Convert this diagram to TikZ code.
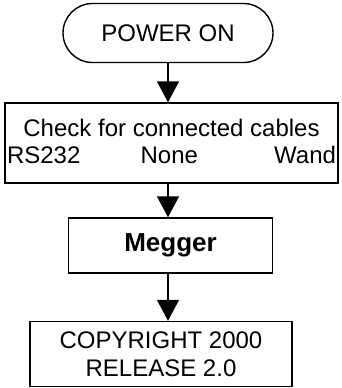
\documentclass[tikz,border=0pt]{standalone}
\usepackage{fontspec}
\setmainfont{Liberation Sans}
\usetikzlibrary{arrows.meta}
\begin{document}
\begin{tikzpicture}[x=1pt,y=-1pt,
  line width=1.4pt,
  every node/.style={font=\fontsize{24}{28}\selectfont, inner sep=0pt, align=center},
  boxx/.style={draw, rectangle},
  arr/.style={-{Triangle[width=22pt,length=21pt]}}]
\useasboundingbox (0,0) rectangle (342,388);
\node[boxx, rounded corners=29.5pt, minimum width=210pt, minimum height=59pt] (pwr) at (168,33) {POWER ON};
\node[boxx, minimum width=333pt, minimum height=80pt] (chk) at (171.5,143)
  {\parbox{329pt}{\centering\vspace*{-3pt} Check for connected cables\\[-1pt]
   RS232\hfill None\hspace{16pt}\hfill Wand}};
\node[boxx, minimum width=204pt, minimum height=55pt] (meg) at (170.5,245.5) {\fontsize{26}{30}\selectfont\bfseries Megger};
\node[boxx, minimum width=262pt, minimum height=65pt] (cpy) at (161,354) {COPYRIGHT 2000\\RELEASE 2.0};
\draw[arr] (pwr.south) -- (pwr.south |- chk.north);
\draw[arr] (pwr.south |- chk.south) -- (pwr.south |- meg.north);
\draw[arr] (pwr.south |- meg.south) -- (pwr.south |- cpy.north);
\end{tikzpicture}
\end{document}
